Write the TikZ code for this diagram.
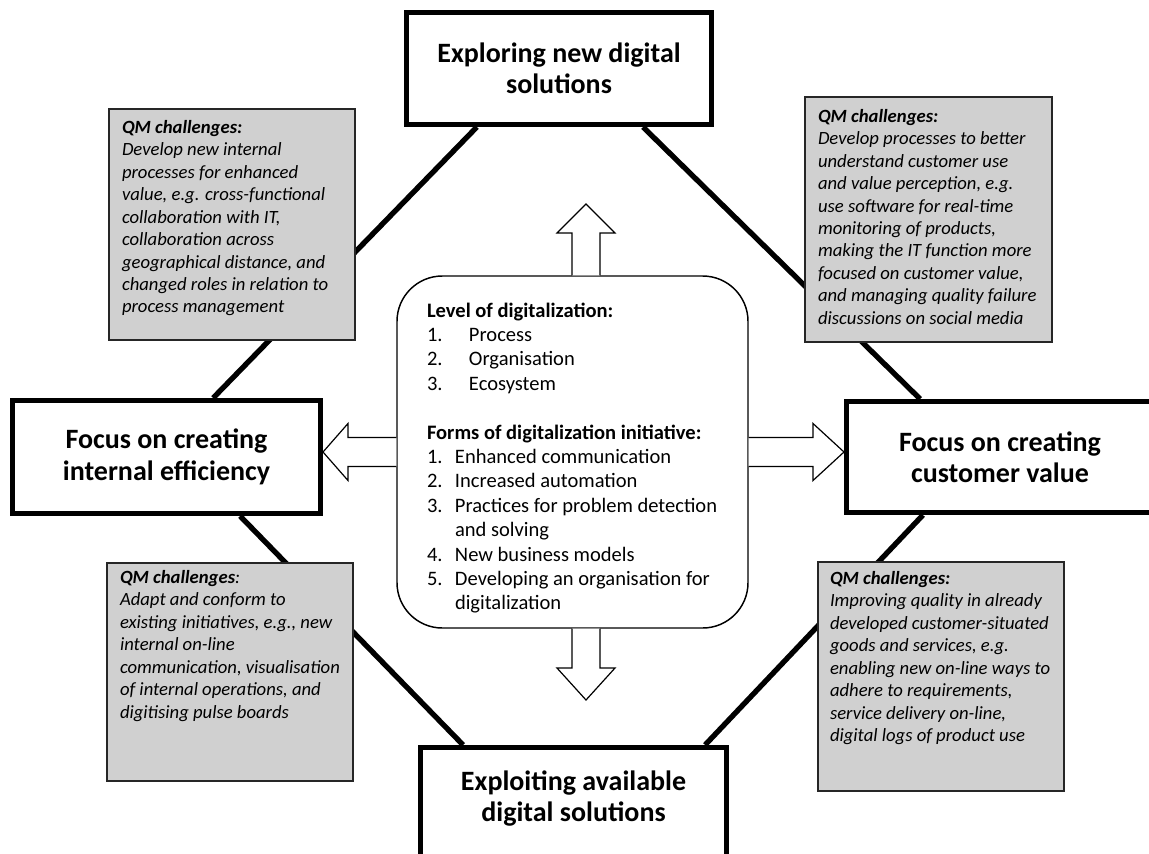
\documentclass[tikz,border=0pt]{standalone}
\usepackage{fontspec}
\setmainfont{Carlito}
\usetikzlibrary{calc}
\pgfdeclarelayer{background}
\pgfsetlayers{background,main}
\definecolor{qmgray}{RGB}{208,208,208}
\begin{document}
\begin{tikzpicture}[x=0.75pt,y=-0.75pt,
  titlebox/.style={draw, line width=3.75pt, fill=white, align=center, inner sep=0pt,
    font=\bfseries\fontsize{21}{23.6}\selectfont},
  qmbox/.style={draw=black!85, line width=1.1pt, fill=qmgray, inner xsep=9.75pt,
    font=\itshape\fontsize{14}{16.85}\selectfont},
  centerbox/.style={draw, line width=1.1pt, fill=white, rounded corners=34pt,
    inner xsep=22.5pt, inner ysep=17.95pt, font=\fontsize{15.4}{18.3}\selectfont},
  octline/.style={line width=4pt},
  blockarrow/.style={draw, line width=0.9pt, fill=white, line join=miter}
]
\clip (0,0) rectangle (1149,853);

% title boxes
\node[titlebox, minimum width=228.75pt, minimum height=84pt] (T) at (559,68.5)
  {Exploring new digital\\solutions};
\node[titlebox, minimum width=231pt, minimum height=84.75pt] (L) at (166.5,457)
  {Focus on creating\\internal efficiency};
\node[titlebox, minimum width=230.25pt, minimum height=83.25pt] (R) at (1000,457)
  {Focus on creating\\customer value};
\node[titlebox, minimum width=229.5pt, minimum height=91.9pt] (B) at (573.5,808.75)
  {\begin{tabular}{@{}c@{}}Exploiting available\\digital solutions\rule[-21pt]{0pt}{1pt}\end{tabular}};

% QM challenge boxes
\node[qmbox, inner ysep=6.4pt, minimum width=184.5pt, minimum height=173.25pt] (qUL) at (232,224.5)
  {\parbox[c][160.45pt][t]{165pt}{\begin{tabular}{@{}l@{}}
  \textbf{QM challenges:}\\
  Develop new internal\\
  processes for enhanced\\
  value, e.g. cross-functional\\
  collaboration with IT,\\
  collaboration across\\
  geographical distance, and\\
  changed roles in relation to\\
  process management
  \end{tabular}}};
\node[qmbox, inner ysep=7.1pt, minimum width=185.25pt, minimum height=183.75pt] (qUR) at (928.5,219.5)
  {\parbox[c][169.55pt][t]{165.75pt}{\begin{tabular}{@{}l@{}}
  \textbf{QM challenges:}\\
  Develop processes to better\\
  understand customer use\\
  and value perception, e.g.\\
  use software for real-time\\
  monitoring of products,\\
  making the IT function more\\
  focused on customer value,\\
  and managing quality failure\\
  discussions on social media
  \end{tabular}}};
\node[qmbox, inner ysep=3.4pt, minimum width=184.5pt, minimum height=163.5pt] (qLL) at (230,672)
  {\parbox[c][156.7pt][t]{165pt}{\begin{tabular}{@{}l@{}}
  \textbf{QM challenges}:\\
  Adapt and conform to\\
  existing initiatives, e.g., new\\
  internal on-line\\
  communication, visualisation\\
  of internal operations, and\\
  digitising pulse boards
  \end{tabular}}};
\node[qmbox, inner xsep=9pt, inner ysep=4.9pt, minimum width=184.5pt, minimum height=171.75pt] (qLR) at (941,676.5)
  {\parbox[c][161.95pt][t]{166.5pt}{\begin{tabular}{@{}l@{}}
  \textbf{QM challenges:}\\
  Improving quality in already\\
  developed customer-situated\\
  goods and services, e.g.\\
  enabling new on-line ways to\\
  adhere to requirements,\\
  service delivery on-line,\\
  digital logs of product use
  \end{tabular}}};

% centre box
\node[centerbox, minimum width=263.25pt, minimum height=264pt] (C) at (572.5,452)
  {\parbox[c][228.1pt][t]{218.25pt}{\begin{tabular}{@{}l@{}}
  \textbf{Level of digitalization:}\\
  \makebox[31.5pt][l]{1.}Process\\
  \makebox[31.5pt][l]{2.}Organisation\\
  \makebox[31.5pt][l]{3.}Ecosystem\\
  \\
  \textbf{Forms of digitalization initiative:}\\
  \makebox[21pt][l]{1.}Enhanced communication\\
  \makebox[21pt][l]{2.}Increased automation\\
  \makebox[21pt][l]{3.}Practices for problem detection\\
  \hspace*{21pt}and solving\\
  \makebox[21pt][l]{4.}New business models\\
  \makebox[21pt][l]{5.}Developing an organisation for\\
  \hspace*{21pt}digitalization
  \end{tabular}}};

% octagon connectors (behind boxes)
\begin{pgfonlayer}{background}
\draw[octline] ($(T.south west)!0.235!(T.south east)$) -- ($(L.north west)!0.649!(L.north east)$);
\draw[octline] ($(T.south west)!0.771!(T.south east)$) -- ($(R.north west)!0.244!(R.north east)$);
\draw[octline] ($(L.south west)!0.735!(L.south east)$) -- ($(B.north west)!0.145!(B.north east)$);
\draw[octline] ($(R.south west)!0.253!(R.south east)$) -- ($(B.north west)!0.923!(B.north east)$);
\end{pgfonlayer}

% block arrows
\coordinate (upTip) at (586,204);
\coordinate (upTail) at (C.north -| upTip);
\coordinate (dnTip) at (586,700);
\coordinate (dnTail) at (C.south -| dnTip);
\coordinate (lfTail) at (C.west);
\coordinate (lfTip) at (L.east |- lfTail);
\coordinate (rtTail) at (C.east);
\coordinate (rtTip) at (R.west |- rtTail);

\draw[blockarrow] ($(upTail)+(-14,0)$) -- ($(upTip)+(-14,29)$) -- ($(upTip)+(-29,29)$) -- (upTip)
  -- ($(upTip)+(29,29)$) -- ($(upTip)+(14,29)$) -- ($(upTail)+(14,0)$);
\draw[blockarrow] ($(dnTail)+(-14,0)$) -- ($(dnTip)+(-14,-32)$) -- ($(dnTip)+(-29,-32)$) -- (dnTip)
  -- ($(dnTip)+(29,-32)$) -- ($(dnTip)+(14,-32)$) -- ($(dnTail)+(14,0)$);
\draw[blockarrow] ($(lfTail)+(0,-14.5)$) -- ($(lfTip)+(25,-14.5)$) -- ($(lfTip)+(25,-28.5)$) -- (lfTip)
  -- ($(lfTip)+(25,28.5)$) -- ($(lfTip)+(25,14.5)$) -- ($(lfTail)+(0,14.5)$);
\draw[blockarrow] ($(rtTail)+(0,-14.5)$) -- ($(rtTip)+(-31,-14.5)$) -- ($(rtTip)+(-31,-28.5)$) -- (rtTip)
  -- ($(rtTip)+(-31,28.5)$) -- ($(rtTip)+(-31,14.5)$) -- ($(rtTail)+(0,14.5)$);
\end{tikzpicture}
\end{document}
